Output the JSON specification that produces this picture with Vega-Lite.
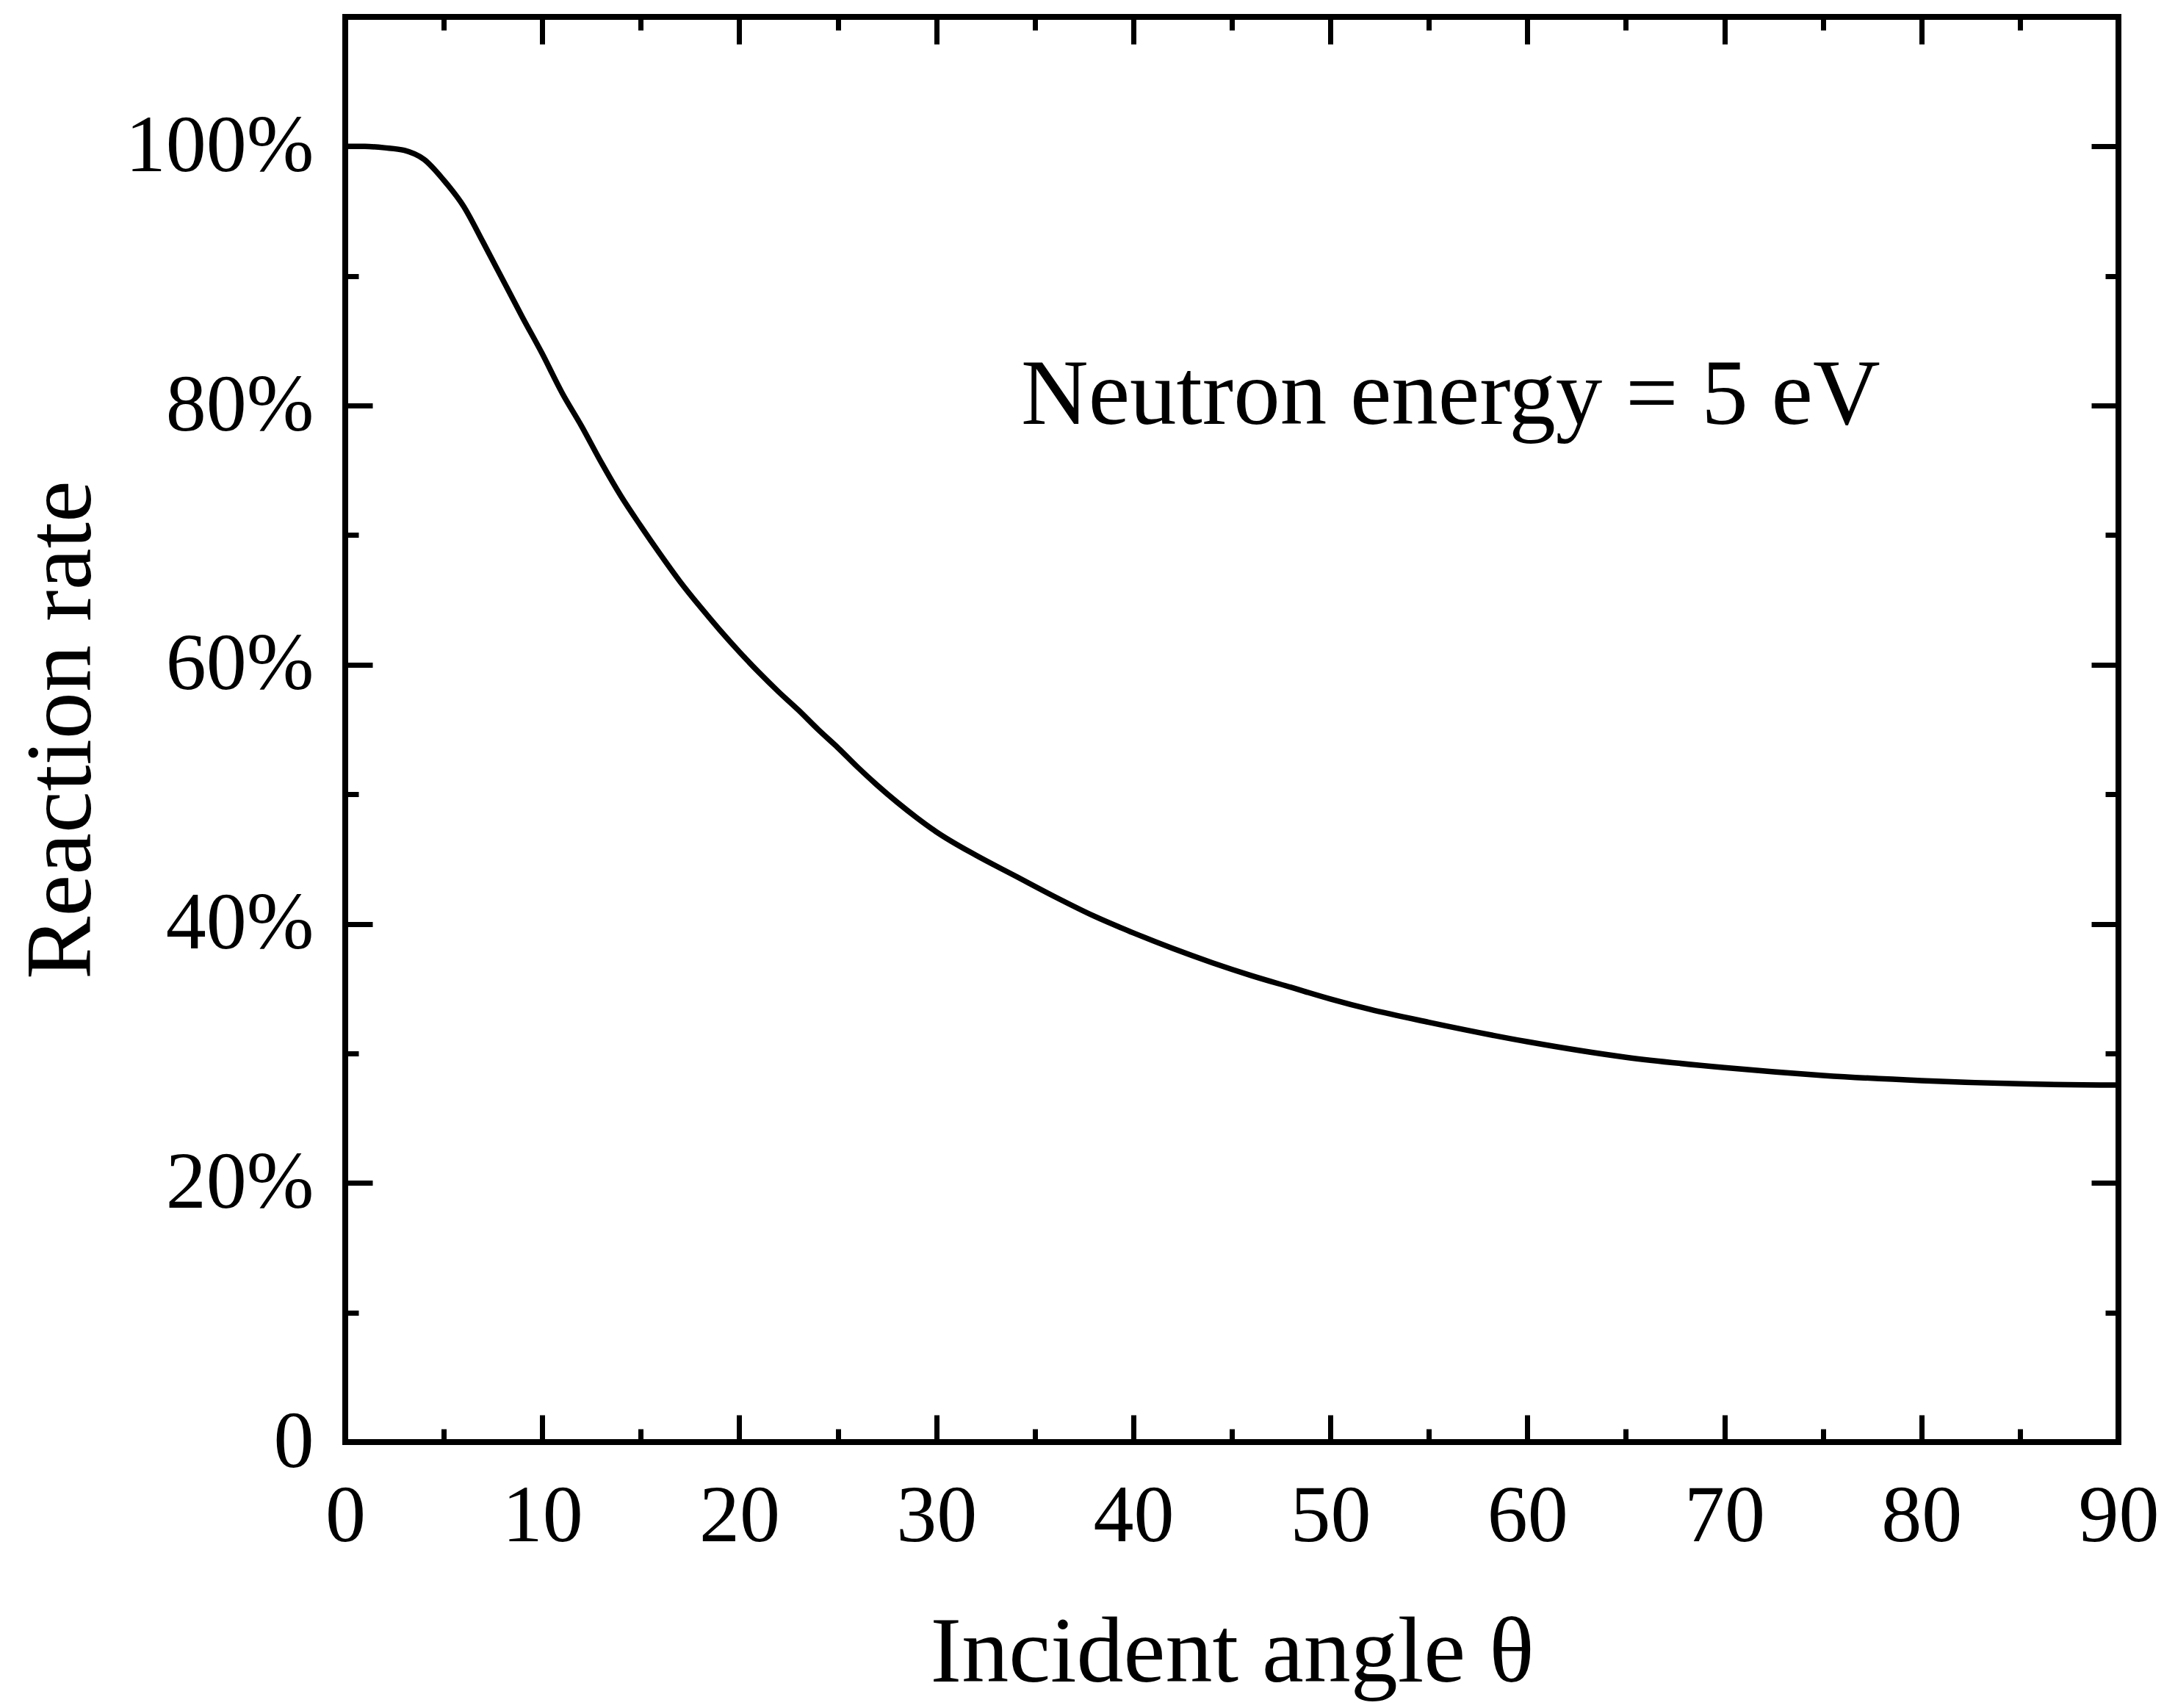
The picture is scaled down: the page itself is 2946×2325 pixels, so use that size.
{
  "$schema": "https://vega.github.io/schema/vega-lite/v6.json",
  "width": 2414,
  "height": 1940,
  "autosize": {"type": "none"},
  "padding": {"left": 470, "top": 23, "right": 62, "bottom": 362},
  "background": "white",
  "data": {
    "values": [
      {"angle": 0, "rate": 100}, {"angle": 1, "rate": 100}, {"angle": 2, "rate": 99.9},
      {"angle": 3, "rate": 99.7}, {"angle": 4, "rate": 99.0}, {"angle": 5, "rate": 97.4},
      {"angle": 6, "rate": 95.4}, {"angle": 7, "rate": 92.6}, {"angle": 8, "rate": 89.7},
      {"angle": 9, "rate": 86.8}, {"angle": 10, "rate": 84.0}, {"angle": 11, "rate": 81.0},
      {"angle": 12, "rate": 78.4}, {"angle": 13, "rate": 75.6}, {"angle": 14, "rate": 73.0},
      {"angle": 15, "rate": 70.7}, {"angle": 16, "rate": 68.5}, {"angle": 17, "rate": 66.4},
      {"angle": 18, "rate": 64.5}, {"angle": 19, "rate": 62.7}, {"angle": 20, "rate": 61.0},
      {"angle": 21, "rate": 59.4}, {"angle": 22, "rate": 57.9}, {"angle": 23, "rate": 56.5},
      {"angle": 24, "rate": 55.0}, {"angle": 25, "rate": 53.6}, {"angle": 26, "rate": 52.1},
      {"angle": 27, "rate": 50.7}, {"angle": 28, "rate": 49.4}, {"angle": 29, "rate": 48.2},
      {"angle": 30, "rate": 47.1}, {"angle": 32, "rate": 45.3}, {"angle": 34, "rate": 43.7},
      {"angle": 36, "rate": 42.1}, {"angle": 38, "rate": 40.6}, {"angle": 40, "rate": 39.3},
      {"angle": 42, "rate": 38.1}, {"angle": 44, "rate": 37.0}, {"angle": 46, "rate": 36.0},
      {"angle": 48, "rate": 35.1}, {"angle": 50, "rate": 34.2}, {"angle": 52, "rate": 33.4},
      {"angle": 55, "rate": 32.4}, {"angle": 60, "rate": 30.9}, {"angle": 65, "rate": 29.7},
      {"angle": 70, "rate": 28.9}, {"angle": 75, "rate": 28.3}, {"angle": 80, "rate": 27.9},
      {"angle": 85, "rate": 27.65}, {"angle": 90, "rate": 27.55}
    ]
  },
  "layer": [
    {
      "mark": {"type": "line", "color": "black", "strokeWidth": 7.5, "strokeJoin": "round", "interpolate": "monotone"},
      "encoding": {
        "x": {
          "field": "angle", "type": "quantitative",
          "scale": {"domain": [0, 90], "nice": false},
          "axis": {
            "orient": "bottom", "values": [0, 10, 20, 30, 40, 50, 60, 70, 80, 90],
            "tickSize": -37, "labelPadding": 84, "title": "Incident angle θ", "titlePadding": 68
          }
        },
        "y": {
          "field": "rate", "type": "quantitative",
          "scale": {"domain": [0, 110], "nice": false},
          "axis": {
            "orient": "left", "values": [0, 20, 40, 60, 80, 100],
            "labelExpr": "datum.value == 0 ? '0' : datum.value + '%'",
            "tickSize": -37, "labelPadding": 80, "title": "Reaction rate", "titlePadding": 121
          }
        }
      }
    },
    {
      "data": {"values": [{"angle": 34.3, "rate": 78.6, "note": "Neutron energy = 5 eV"}]},
      "mark": {"type": "text", "align": "left", "baseline": "alphabetic", "font": "Liberation Serif", "fontSize": 127, "color": "black"},
      "encoding": {
        "x": {
          "field": "angle", "type": "quantitative",
          "axis": {"orient": "bottom", "values": [5, 15, 25, 35, 45, 55, 65, 75, 85], "tickSize": -18, "labels": false, "title": null}
        },
        "y": {
          "field": "rate", "type": "quantitative",
          "axis": {"orient": "left", "values": [10, 30, 50, 70, 90], "tickSize": -18, "labels": false, "title": null}
        },
        "text": {"field": "note"}
      }
    },
    {
      "mark": {"type": "point", "opacity": 0},
      "encoding": {
        "x": {
          "field": "angle", "type": "quantitative",
          "axis": {"orient": "top", "values": [10, 20, 30, 40, 50, 60, 70, 80], "tickSize": -37, "labels": false, "title": null}
        },
        "y": {
          "field": "rate", "type": "quantitative",
          "axis": {"orient": "right", "values": [20, 40, 60, 80, 100], "tickSize": -37, "labels": false, "title": null}
        }
      }
    },
    {
      "mark": {"type": "point", "opacity": 0},
      "encoding": {
        "x": {
          "field": "angle", "type": "quantitative",
          "axis": {"orient": "top", "values": [5, 15, 25, 35, 45, 55, 65, 75, 85], "tickSize": -18, "labels": false, "title": null}
        },
        "y": {
          "field": "rate", "type": "quantitative",
          "axis": {"orient": "right", "values": [10, 30, 50, 70, 90], "tickSize": -18, "labels": false, "title": null}
        }
      }
    }
  ],
  "resolve": {"axis": {"x": "independent", "y": "independent"}},
  "config": {
    "view": {"stroke": "black", "strokeWidth": 8},
    "axis": {
      "domain": false, "grid": false,
      "ticks": true, "tickColor": "black", "tickWidth": 7,
      "labelFont": "Liberation Serif", "labelFontSize": 110, "labelColor": "black",
      "labelFlush": false, "labelOverlap": false, "labelLimit": 0,
      "titleFont": "Liberation Serif", "titleFontSize": 128, "titleFontWeight": "normal", "titleColor": "black"
    }
  }
}
